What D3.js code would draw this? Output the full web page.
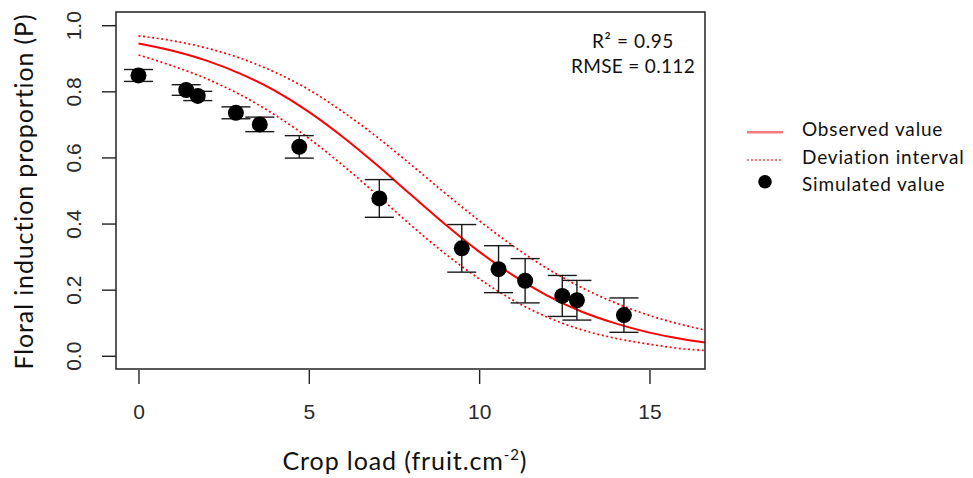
<!DOCTYPE html>
<html>
<head>
<meta charset="utf-8">
<script src="https://cdn.jsdelivr.net/npm/d3@7"></script>
<style>
  html, body { margin: 0; padding: 0; background: #fff; }
  svg { display: block; }
</style>
</head>
<body>
<svg id="chart" width="973" height="478"></svg>
<script>
// ---- data ----
const pointX   = [0, 1.40, 1.74, 2.86, 3.56, 4.72, 7.07, 9.49, 10.57, 11.35, 12.44, 12.87, 14.25];
const pointY   = [0.848, 0.804, 0.786, 0.735, 0.700, 0.632, 0.476, 0.325, 0.262, 0.227, 0.181, 0.168, 0.123];
const pointErr = [0.018, 0.016, 0.014, 0.018, 0.022, 0.034, 0.057, 0.072, 0.071, 0.067, 0.062, 0.060, 0.052];

const curveX   = [0, 1, 2, 3, 4, 5, 6, 7, 8, 9, 10, 11, 12, 13, 14, 15, 16, 16.63];
const observed = [0.945, 0.923, 0.893, 0.853, 0.802, 0.738, 0.662, 0.577, 0.487, 0.398, 0.315, 0.243, 0.182, 0.134, 0.098, 0.070, 0.050, 0.040];
const upperDev = [0.968, 0.953, 0.931, 0.900, 0.858, 0.805, 0.738, 0.662, 0.578, 0.492, 0.409, 0.332, 0.264, 0.207, 0.160, 0.122, 0.093, 0.078];
const lowerDev = [0.910, 0.877, 0.838, 0.789, 0.729, 0.658, 0.576, 0.487, 0.395, 0.309, 0.233, 0.168, 0.117, 0.079, 0.053, 0.035, 0.021, 0.016];

const xTicks = [0, 5, 10, 15];
const yTicks = [0.0, 0.2, 0.4, 0.6, 0.8, 1.0];
const legendLabels = ["Observed value", "Deviation interval", "Simulated value"];
const statLines = ["R² = 0.95", "RMSE = 0.112"];

// ---- layout ----
const box = { left: 116, right: 705, top: 12, bottom: 369 };
const svg = d3.select("#chart");

const x = d3.scaleLinear().domain([-0.66, 16.63]).range([box.left, box.right]);
const y = d3.scaleLinear().domain([-0.04, 1.04]).range([box.bottom, box.top]);

const tickFont = "'Liberation Sans', Arial, sans-serif";
const textFont = "Lato, 'Open Sans', sans-serif";

// stretch a text element to a target width with letter spacing
function fitWidth(sel, target) {
  sel.each(function () {
    const n = this.textContent.length;
    const w = this.getComputedTextLength();
    if (n > 1) d3.select(this).attr("letter-spacing", ((target - w) / n).toFixed(2));
  });
}

svg.append("defs").append("clipPath").attr("id", "plotclip")
  .append("rect")
  .attr("x", box.left).attr("y", box.top)
  .attr("width", box.right - box.left).attr("height", box.bottom - box.top);

// ---- curves ----
const line = d3.line()
  .x(d => x(d[0])).y(d => y(d[1]))
  .curve(d3.curveMonotoneX);

const plot = svg.append("g").attr("clip-path", "url(#plotclip)");

[upperDev, lowerDev].forEach(arr => {
  plot.append("path")
    .attr("d", line(curveX.map((v, i) => [v, arr[i]])))
    .attr("fill", "none").attr("stroke", "#ff0000")
    .attr("stroke-width", 1.7).attr("stroke-dasharray", "2,2.6");
});
plot.append("path")
  .attr("d", line(curveX.map((v, i) => [v, observed[i]])))
  .attr("fill", "none").attr("stroke", "#ff0000")
  .attr("stroke-width", 2);

// ---- error bars ----
const capHalf = 14.5;
const pts = pointX.map((v, i) => ({ x: v, y: pointY[i], e: pointErr[i] }));
const eb = svg.append("g").attr("stroke", "#1a1a1a").attr("stroke-width", 1.4);
pts.forEach(p => {
  const cx = x(p.x);
  eb.append("line").attr("x1", cx).attr("x2", cx)
    .attr("y1", y(p.y + p.e)).attr("y2", y(p.y - p.e));
  eb.append("line").attr("x1", cx - capHalf).attr("x2", cx + capHalf)
    .attr("y1", y(p.y + p.e)).attr("y2", y(p.y + p.e));
  eb.append("line").attr("x1", cx - capHalf).attr("x2", cx + capHalf)
    .attr("y1", y(p.y - p.e)).attr("y2", y(p.y - p.e));
});

// ---- points ----
svg.append("g").selectAll("circle").data(pts).join("circle")
  .attr("cx", d => x(d.x)).attr("cy", d => y(d.y))
  .attr("r", 8).attr("fill", "#000");

// ---- box ----
svg.append("rect")
  .attr("x", box.left).attr("y", box.top)
  .attr("width", box.right - box.left).attr("height", box.bottom - box.top)
  .attr("fill", "none").attr("stroke", "#222").attr("stroke-width", 1.5);

// ---- x axis ----
const xAxis = d3.axisBottom(x).tickValues(xTicks).tickSize(14).tickPadding(20).tickFormat(d3.format("d"));
const gx = svg.append("g").attr("transform", `translate(0,${box.bottom + 1})`).call(xAxis);
gx.select(".domain").remove();
gx.selectAll(".tick line").attr("stroke", "#222").attr("stroke-width", 1.4);
gx.selectAll(".tick text").attr("font-family", tickFont).attr("font-size", 21).attr("fill", "#2a2a2a");

// ---- y axis ----
const yAxis = d3.axisLeft(y).tickValues(yTicks).tickSize(14).tickPadding(20).tickFormat(d3.format(".1f"));
const gy = svg.append("g").attr("transform", `translate(${box.left},0)`).call(yAxis);
gy.select(".domain").remove();
gy.selectAll(".tick line").attr("stroke", "#222").attr("stroke-width", 1.4);
gy.selectAll(".tick text")
  .attr("font-family", tickFont).attr("font-size", 21).attr("fill", "#2a2a2a")
  .attr("x", null).attr("dy", null)
  .attr("text-anchor", "middle")
  .attr("transform", "translate(-35,0) rotate(-90)");

// ---- axis titles ----
const yt = svg.append("text")
  .attr("transform", `translate(33,${(box.top + box.bottom) / 2 + 1}) rotate(-90)`)
  .attr("text-anchor", "middle")
  .attr("font-family", textFont).attr("font-size", 25).attr("fill", "#111")
  .text("Floral induction proportion (P)");
fitWidth(yt, 357);

const xt = svg.append("text")
  .attr("x", 405).attr("y", 470)
  .attr("text-anchor", "middle")
  .attr("font-family", textFont).attr("font-size", 25).attr("fill", "#111")
  .attr("letter-spacing", 0.9);
xt.append("tspan").text("Crop load (fruit.cm");
xt.append("tspan").attr("dy", -10).attr("font-size", 15).text("-2");
xt.append("tspan").attr("dy", 10).text(")");

// ---- stats annotation ----
const st = svg.append("g").selectAll("text").data(statLines).join("text")
  .attr("x", 633).attr("y", (d, i) => 48 + i * 25)
  .attr("text-anchor", "middle")
  .attr("font-family", textFont).attr("font-size", 19).attr("fill", "#111")
  .text(d => d);
fitWidth(st.filter((d, i) => i === 0), 82);
fitWidth(st.filter((d, i) => i === 1), 124);

// ---- legend ----
const lg = svg.append("g");
const lineY = [132.3, 160, 181.7];
const textY = [136, 163.5, 190.5];
lg.append("line").attr("x1", 747).attr("x2", 783).attr("y1", lineY[0]).attr("y2", lineY[0])
  .attr("stroke", "#f47c7c").attr("stroke-width", 2.5);
lg.append("line").attr("x1", 747).attr("x2", 783).attr("y1", lineY[1]).attr("y2", lineY[1])
  .attr("stroke", "#f47c7c").attr("stroke-width", 2).attr("stroke-dasharray", "2,2");
lg.append("circle").attr("cx", 765).attr("cy", lineY[2]).attr("r", 6.8).attr("fill", "#000");
const lt = lg.selectAll("text.lab").data(legendLabels).join("text").attr("class", "lab")
  .attr("x", 802).attr("y", (d, i) => textY[i])
  .attr("font-family", textFont).attr("font-size", 19).attr("fill", "#111")
  .text(d => d);
fitWidth(lt.filter((d, i) => i === 1), 163);
const ls = lt.filter((d, i) => i === 1).attr("letter-spacing");
lt.attr("letter-spacing", ls);
</script>
</body>
</html>
